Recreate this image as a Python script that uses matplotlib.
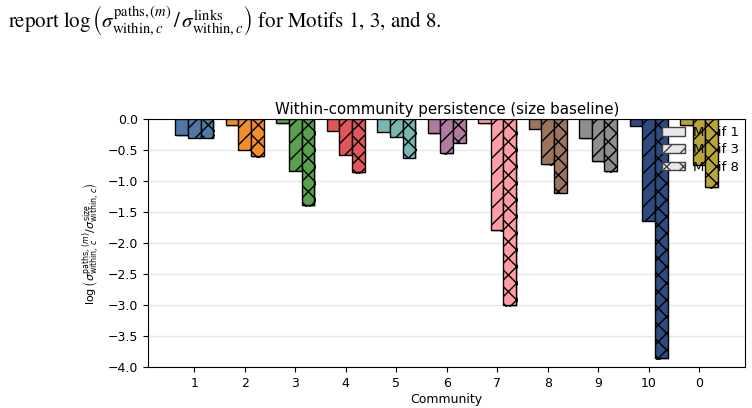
import matplotlib
matplotlib.use("Agg")
import matplotlib.pyplot as plt
import matplotlib.patheffects as pe
from matplotlib.patches import Patch
import numpy as np

communities = ["1", "2", "3", "4", "5", "6", "7", "8", "9", "10", "0"]
colors = ["#4e79a7", "#f28e2b", "#59a14f", "#e15759", "#76b7b2", "#b07aa1",
          "#ff9da7", "#9c755f", "#8e8e8e", "#2e4a7e", "#b8a63a"]
motif1 = [-0.26, -0.10, -0.07, -0.19, -0.20, -0.23, -0.07, -0.16, -0.31, -0.11, -0.10]
motif3 = [-0.30, -0.49, -0.83, -0.58, -0.28, -0.55, -1.79, -0.73, -0.68, -1.64, -0.74]
motif8 = [-0.30, -0.60, -1.39, -0.86, -0.62, -0.38, -3.00, -1.19, -0.84, -3.855, -1.10]
motif_names = ["Motif 1", "Motif 3", "Motif 8"]
hatches = ["", "//", "xx"]

fig = plt.figure(figsize=(7.52, 4.08), dpi=100)
ax = fig.add_axes([0.197, 0.100, 0.794, 0.608])

x = np.arange(len(communities))
w = 0.25
shadow = [pe.SimplePatchShadow(offset=(1, -1), alpha=0.25), pe.Normal()]
for k, (vals, h) in enumerate(zip([motif1, motif3, motif8], hatches)):
    bars = ax.bar(x + (k - 1) * w, vals, width=w, color=colors, edgecolor="black",
                  linewidth=1.0, hatch=h, zorder=3)
    for b in bars:
        b.set_path_effects(shadow)
    if k == 2:
        # last motif-8 bar sits over the legend text
        bars[-1].set_zorder(6)

ax.set_ylim(-4.0, 0.0)
ax.set_yticks(np.arange(-4.0, 0.01, 0.5))
ax.set_xticks(x)
ax.set_xticklabels(communities)
ax.tick_params(labelsize=9)
ax.yaxis.grid(True, color="#e6e6e6", linewidth=1, zorder=0)
ax.set_axisbelow(True)
ax.set_xlabel("Community", fontsize=9, labelpad=2)
ax.set_ylabel(r"$\log\left(\sigma^{\mathrm{paths},\,(m)}_{\mathrm{within},\,c}/\sigma^{\mathrm{size}}_{\mathrm{within},\,c}\right)$",
              fontsize=8)
ax.set_title("Within-community persistence (size baseline)", fontsize=10.8, pad=4)

handles = [Patch(facecolor="#e8e8e8", edgecolor="#444444", hatch=h, label=n)
           for n, h in zip(motif_names, hatches)]
leg = ax.legend(handles=handles, loc="upper left", frameon=False, fontsize=9.5,
                bbox_to_anchor=(0.861, 0.972), borderaxespad=0, borderpad=0,
                handlelength=1.75, handleheight=0.6, handletextpad=0.55,
                labelspacing=0.32)
leg.set_zorder(5)

fig.text(0.011, 0.95,
         r"report $\log\left(\sigma^{\mathrm{paths},(m)}_{\mathrm{within},c}\,/\,\sigma^{\mathrm{links}}_{\mathrm{within},c}\right)$ for Motifs 1, 3, and 8.",
         fontsize=15, family="STIXGeneral", math_fontfamily="stix", va="center")

fig.savefig("out.png", dpi=100)
